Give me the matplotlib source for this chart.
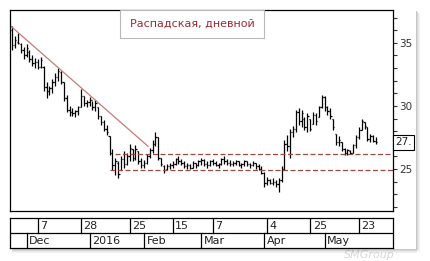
import matplotlib.pyplot as plt
from matplotlib.patches import Rectangle
import pandas as pd
import numpy as np

# daily bars, Raspadskaya, 24 Nov 2015 - 31 May 2016
holidays = ["2015-12-31", "2016-01-01", "2016-01-07", "2016-02-23",
            "2016-03-08", "2016-05-02", "2016-05-03", "2016-05-09"]
dates = pd.bdate_range("2015-11-24", "2016-05-31")
dates = dates[~dates.isin(pd.to_datetime(holidays))]

highs = [36.3, 35.5, 35.8, 35.0, 34.7, 34.9, 34.4, 34.0, 33.8, 33.7,
         33.9, 33.2, 31.9, 31.6, 32.1, 32.6, 33.0, 32.8, 31.9, 30.9,
         30.0, 29.8, 29.7, 30.0, 31.3, 30.8, 30.5, 30.7, 30.4, 30.5,
         29.9, 29.2, 28.9, 28.5, 27.6, 26.6, 25.9, 25.6, 26.0, 26.4,
         26.3, 27.0, 26.6, 26.9, 26.4, 25.9, 25.7, 26.2, 26.7, 27.3,
         27.9, 27.5, 25.9, 25.3, 25.4, 25.5, 25.6, 25.9, 26.0, 25.8,
         25.6, 25.5, 25.4, 25.6, 25.5, 25.7, 25.9, 25.8, 25.6, 25.7,
         25.8, 25.6, 25.5, 25.9, 26.0, 25.8, 25.7, 25.6, 25.7, 25.6,
         25.5, 25.7, 25.6, 25.5, 25.6, 25.5, 25.4, 25.2, 24.8, 24.4,
         24.2, 24.3, 24.1, 24.3, 25.2, 27.3, 27.7, 28.2, 28.4, 29.7,
         29.8, 29.7, 29.1, 29.4, 29.0, 29.5, 29.4, 30.0, 30.9, 30.8,
         30.0, 29.8, 29.0, 27.8, 27.6, 27.1, 26.7, 26.6, 26.5, 27.0,
         27.7, 28.3, 29.0, 28.7, 28.3, 27.8, 27.7, 27.5]
lows = [34.4, 34.6, 34.9, 34.2, 33.7, 33.9, 33.5, 33.2, 33.0, 32.9,
        33.0, 31.2, 30.6, 30.9, 31.0, 31.6, 32.0, 31.7, 30.4, 29.5,
        29.2, 29.2, 29.1, 29.3, 29.9, 30.0, 29.9, 30.0, 29.7, 29.6,
        29.0, 28.5, 28.0, 27.7, 26.1, 24.9, 24.5, 24.3, 24.9, 25.1,
        25.3, 25.6, 25.6, 25.7, 25.4, 25.1, 25.1, 25.4, 25.9, 26.3,
        26.8, 25.7, 25.2, 24.7, 24.9, 25.0, 25.1, 25.3, 25.4, 25.3,
        25.1, 25.0, 25.0, 25.1, 25.1, 25.2, 25.3, 25.2, 25.1, 25.2,
        25.3, 25.2, 25.1, 25.3, 25.4, 25.3, 25.2, 25.2, 25.3, 25.2,
        25.1, 25.2, 25.2, 25.1, 25.2, 25.0, 24.9, 24.6, 23.6, 23.7,
        23.8, 23.7, 23.6, 23.2, 24.0, 24.9, 26.4, 25.9, 27.5, 27.9,
        28.5, 28.3, 28.1, 27.9, 28.0, 28.6, 28.5, 29.1, 29.8, 29.6,
        29.3, 29.0, 28.1, 26.9, 26.8, 26.4, 26.1, 26.1, 26.2, 26.3,
        26.7, 27.4, 28.1, 28.2, 27.2, 27.1, 27.1, 27.0]
opens = [36.0, 34.8, 35.1, 34.9, 34.4, 34.0, 34.3, 33.7, 33.4, 33.5,
         33.1, 33.1, 31.5, 31.2, 31.4, 31.9, 32.3, 32.7, 31.9, 30.6,
         29.7, 29.5, 29.4, 29.6, 29.9, 30.8, 30.2, 30.3, 30.5, 29.9,
         29.9, 29.2, 28.7, 28.2, 27.6, 26.3, 25.3, 25.5, 24.9, 25.8,
         25.4, 26.0, 26.6, 25.9, 26.4, 25.6, 25.3, 25.5, 26.0, 26.5,
         27.0, 27.5, 25.9, 25.2, 25.0, 25.2, 25.3, 25.4, 25.8, 25.6,
         25.5, 25.2, 25.3, 25.1, 25.5, 25.3, 25.6, 25.7, 25.4, 25.3,
         25.6, 25.5, 25.3, 25.4, 25.8, 25.6, 25.5, 25.4, 25.5, 25.6,
         25.3, 25.4, 25.6, 25.4, 25.3, 25.5, 25.2, 25.0, 24.7, 23.9,
         24.1, 23.9, 24.0, 23.8, 24.1, 25.0, 27.0, 26.8, 27.9, 28.2,
         29.5, 28.8, 29.0, 28.3, 29.0, 28.6, 29.3, 29.1, 29.9, 30.7,
         29.9, 29.6, 29.0, 27.8, 27.1, 27.1, 26.6, 26.3, 26.4, 26.3,
         26.9, 27.5, 28.1, 28.7, 28.3, 27.4, 27.6, 27.2]
closes = [34.8, 35.2, 35.0, 34.4, 34.0, 34.6, 33.7, 33.4, 33.5, 33.1,
          33.6, 31.5, 31.2, 31.4, 31.9, 32.3, 32.8, 31.9, 30.6, 29.7,
          29.5, 29.4, 29.6, 29.9, 30.8, 30.2, 30.3, 30.5, 29.9, 30.2,
          29.2, 28.7, 28.2, 27.9, 26.3, 25.3, 25.6, 24.6, 25.8, 25.4,
          26.0, 26.7, 25.9, 26.6, 25.6, 25.3, 25.5, 26.0, 26.5, 27.0,
          27.5, 25.9, 25.4, 24.9, 25.2, 25.3, 25.4, 25.8, 25.6, 25.5,
          25.2, 25.3, 25.1, 25.5, 25.3, 25.6, 25.7, 25.4, 25.3, 25.6,
          25.5, 25.3, 25.4, 25.8, 25.6, 25.5, 25.4, 25.5, 25.6, 25.3,
          25.4, 25.6, 25.4, 25.3, 25.5, 25.2, 25.0, 24.7, 23.9, 24.1,
          23.9, 24.0, 23.8, 24.1, 25.0, 27.0, 26.8, 27.9, 28.2, 29.5,
          28.8, 29.4, 28.3, 29.2, 28.2, 29.3, 28.8, 29.9, 30.7, 29.9,
          29.6, 29.2, 28.3, 27.1, 27.3, 26.6, 26.3, 26.5, 26.3, 26.9,
          27.5, 28.1, 28.8, 28.4, 27.4, 27.6, 27.2, 27.1]

# trend line (bar index, price) and horizontal support levels
trend_x = [-0.4, 47.4]
trend_y = [36.3, 26.8]
level_hi, level_hi_start = 26.16, 35.9
level_lo, level_lo_start = 24.92, 34.1

tick_days = ["2015-12-07", "2015-12-28", "2016-01-25", "2016-02-15",
             "2016-03-07", "2016-04-04", "2016-04-25", "2016-05-23"]
tick_labels = ["7", "28", "25", "15", "7", "4", "25", "23"]
month_days = ["2015-12-01", "2016-01-04", "2016-02-01", "2016-03-01",
              "2016-04-01", "2016-05-04"]
month_labels = ["Dec", "2016", "Feb", "Mar", "Apr", "May"]

x = np.arange(len(dates))
xmin, xmax = -0.77, 132.9
ymin, ymax = 21.67, 37.6

fig = plt.figure(figsize=(4.3, 2.61), dpi=100)
fig.patch.set_facecolor("white")

# drop shadow of the chart panel
for k, a in enumerate([0.35, 0.25, 0.15, 0.08]):
    fig.patches.append(Rectangle((416 / 430 + k / 430, 12 / 261 - k / 261), 1 / 430, 238 / 261,
                                 transform=fig.transFigure, color="#606060", alpha=a, lw=0))
    fig.patches.append(Rectangle((12 / 430, 12 / 261 - (k + 1) / 261), 405 / 430, 1 / 261,
                                 transform=fig.transFigure, color="#606060", alpha=a, lw=0))

ax = fig.add_axes([10 / 430, 1 - 211 / 261, 383 / 430, 201 / 261])
ax.set_xlim(xmin, xmax)
ax.set_ylim(ymin, ymax)

ax.vlines(x, lows, highs, color="black", lw=0.9)
ax.hlines(opens, x - 0.45, x, color="black", lw=0.9)
ax.hlines(closes, x, x + 0.45, color="black", lw=0.9)

ax.plot(trend_x, trend_y, color="#c47a7a", lw=0.9)
ax.plot([level_hi_start, xmax], [level_hi, level_hi], color="#a04848", lw=0.9, ls=(0, (4, 2)))
ax.plot([level_lo_start, xmax], [level_lo, level_lo], color="#a04848", lw=0.9, ls=(0, (4, 2)))

ax.yaxis.tick_right()
ax.set_yticks([25, 30, 35])
ax.set_yticks(np.arange(22, 38), minor=True)
ax.tick_params(axis="y", which="both", length=3, width=0.8, color="#333333",
               labelsize=7.5, labelcolor="#333333", pad=1.5)
ax.set_xticks([])
for s in ax.spines.values():
    s.set_linewidth(0.9)

# title box, flush with the top of the plot
ax.add_patch(Rectangle((0.287, 0.86), 0.376, 0.14, transform=ax.transAxes,
                       fc="white", ec="#b8b8b8", lw=0.8, zorder=3))
ax.text(0.475, 0.93, "Распадская, дневной", transform=ax.transAxes, ha="center", va="center",
        fontsize=8, color="#9a2a35", zorder=4)

# last price marker
ax.text(1.005, (closes[-1] - ymin) / (ymax - ymin), "27.", transform=ax.transAxes,
        ha="left", va="center", fontsize=7.5, color="#222222",
        bbox=dict(boxstyle="square,pad=0.2", fc="white", ec="black", lw=0.8))

# date table under the chart
ax2 = fig.add_axes([10 / 430, 1 - 248 / 261, 383 / 430, 30 / 261])
ax2.set_xlim(xmin, xmax)
ax2.set_ylim(0, 2)
ax2.set_xticks([])
ax2.set_yticks([])
ax2.axhline(1, color="black", lw=0.9)
for s in ax2.spines.values():
    s.set_linewidth(0.9)

ticks_idx = [dates.get_loc(pd.Timestamp(d)) for d in tick_days]
for i, lab in zip(ticks_idx, tick_labels):
    ax2.plot([i, i], [1, 2], color="black", lw=0.9)
    ax2.text(i + 0.9, 1.45, lab, fontsize=8, ha="left", va="center", color="#222222")
months_idx = [dates.get_loc(pd.Timestamp(d)) for d in month_days]
for i, lab in zip(months_idx, month_labels):
    ax2.plot([i, i], [0, 1], color="black", lw=0.9)
    ax2.text(i + 0.9, 0.45, lab, fontsize=8, ha="left", va="center", color="#222222")

# faint watermark, kept below the date table
fig.text(0.86, 0.022, "SMGroup", fontsize=8, color="#d8d8d8",
         ha="center", va="center", style="italic", zorder=0)

fig.savefig("out.png", dpi=100, facecolor="white")
